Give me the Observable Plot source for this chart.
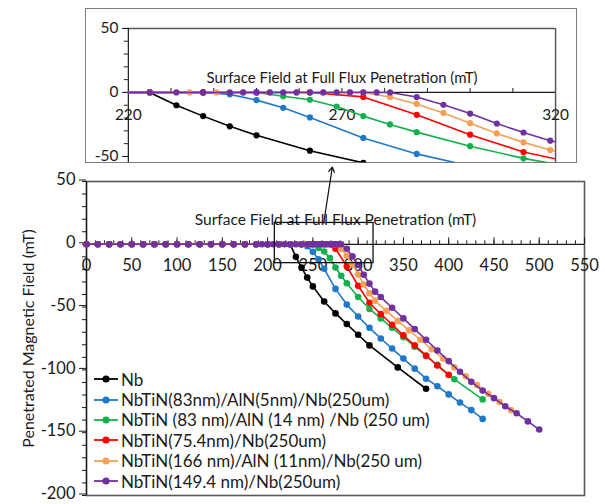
<!DOCTYPE html>
<html><head><meta charset="utf-8">
<script src="https://cdn.jsdelivr.net/npm/d3@7"></script>
<script src="https://cdn.jsdelivr.net/npm/@observablehq/plot@0.6"></script>
<style>
body{margin:0;background:#fff;}
#wrap{position:relative;width:605px;height:504px;overflow:hidden;font-family:Lato,sans-serif;color:#1a1a1a;}
#main{position:absolute;left:0;top:0;}
#inset{position:absolute;left:85px;top:8px;width:492px;height:155px;box-sizing:border-box;border:1.5px solid #7f7f7f;background:#fff;}
#inset svg{position:absolute;left:-1.5px;top:-1.5px;}
#legend{position:absolute;left:94px;top:369px;font-size:17px;}
.row{display:flex;align-items:center;height:20.4px;white-space:nowrap;}
.row svg{margin-right:2px;}
</style></head><body>
<div id="wrap"><div id="main"></div><div id="inset"></div><div id="legend"></div></div>
<script>
// ---- data ----
const seriesNames = [
  "Nb",
  "NbTiN(83nm)/AlN(5nm)/Nb(250um)",
  "NbTiN (83 nm)/AlN (14 nm) /Nb (250 um)",
  "NbTiN(75.4nm)/Nb(250um)",
  "NbTiN(166 nm)/AlN (11nm)/Nb(250 um)",
  "NbTiN(149.4 nm)/Nb(250um)"
];
const seriesColors = ["#000000", "#1f78c8", "#14b04c", "#ff0000", "#f7a055", "#7030a0"];

const zeroField = [0,12.5,25,37.5,50,62.5,75,87.5,100,112.5,125,137.5,150,162.5,175,187.5,200,212.5,225];

const nbX = [231.25,237.5,243.75,250,262.5,275,287.5,300,312.5,343.75,375];
const nbY = [-10,-18.5,-26.5,-33.5,-45.5,-55,-63.5,-72,-80.5,-98,-115];

const aln5X = [237.5,243.75,250,256.25,262.5,275,287.5,300,312.5,325,337.5,350,362.5,375,387.5,400,412.5,425,437.5];
const aln5Y = [0,-1.5,-6,-12,-19.5,-35.5,-48,-57.5,-66.5,-75,-83,-91,-99,-107,-113,-119.5,-126,-132,-139];

const aln14X = [237.5,250,256.25,262.5,268.75,275,281.25,287.5,300,312.5,325,337.5,350,362.5,375,387.5,406.25,437.5];
const aln14Y = [0,0,-3,-5.7,-11,-18.5,-25,-31,-42,-51.5,-59,-66.5,-74,-81.5,-89,-96,-107.5,-123.5];

const nb754X = [237.5,250,262.5,275,287.5,300,312.5,325,337.5,350,362.5,375,387.5,400];
const nb754Y = [0,0,0,-3.5,-17.5,-33,-46.5,-55.5,-64,-72.5,-80.5,-88.5,-96.5,-104];

const aln11X = [234.375,240.625,246.875,253.125,259.375,265.625,271.875,275,281.25,287.5,293.75,300,306.25,312.5,318.75,331.25,343.75,356.25,368.75,381.25,393.75,406.25,418.75,431.25,443.75,456.25,468.75];
const aln11Y = [0,0,0,0,0,0,0,0,-3.5,-9,-16,-24,-32,-39,-45,-53,-61,-68.5,-76,-83.5,-91,-98,-105,-112,-119,-125.5,-132];

const nb1494X = [0,12.5,25,37.5,50,62.5,75,87.5,100,112.5,125,137.5,150,162.5,175,187.5,193.75,200,206.25,212.5,218.75,225,231.25,237.5,243.75,246.875,250,253.125,256.25,259.375,262.5,265.625,268.75,271.875,275,278.125,281.25,287.5,293.75,300,306.25,312.5,318.75,325,337.5,350,362.5,375,387.5,400,412.5,425,437.5,450,462.5,475,487.5,500];
const nb1494Y = [0,0,0,0,0,0,0,0,0,0,0,0,0,0,0,0,0,0,0,0,0,0,0,0,0,0,0,0,0,0,0,0,0,0,0,0,0,-3.6,-9.6,-16.5,-24.3,-31.3,-37.7,-42,-50.5,-59,-67.5,-76,-84.5,-93,-101.5,-109.5,-116.5,-122.5,-129,-134.5,-141,-147.5];

const xTitle = "Surface Field at Full Flux Penetration (mT)";
const yTitle = "Penetrated Magnetic Field (mT)";
const mainXTicks = [0,50,100,150,200,250,300,350,400,450,500,550];
const mainYTicks = [50,0,-50,-100,-150,-200];
const insetXTicks = [220,270,320];
const insetYTicks = [50,0,-50];
const zoomBox = {x1: 208, x2: 317, y1: -15, y2: 17};
const pointer = {x1: 262, y1: 17, x2: 271.5, y2: 61.5};

// ---- assemble ----
const zeros = zeroField.map(() => 0);
const seriesXY = [
  [zeroField.concat(nbX), zeros.concat(nbY)],
  [zeroField.concat(aln5X), zeros.concat(aln5Y)],
  [zeroField.concat(aln14X), zeros.concat(aln14Y)],
  [zeroField.concat(nb754X), zeros.concat(nb754Y)],
  [zeroField.concat(aln11X), zeros.concat(aln11Y)],
  [nb1494X, nb1494Y]
];
const seriesData = seriesXY.map(([xs, ys], i) => xs.map((x, j) => ({series: seriesNames[i], x, y: ys[j]})));

function seriesMarks(clip, r) {
  const m = [];
  seriesData.forEach((d, i) => {
    m.push(Plot.line(d, {x: "x", y: "y", stroke: seriesColors[i], strokeWidth: 1.6, clip}));
    m.push(Plot.dot(d, {x: "x", y: "y", fill: seriesColors[i], r, clip}));
  });
  return m;
}

const font = "Lato, sans-serif";
const ink = "#1a1a1a";

// main chart geometry
const mW = 605, mH = 504, mT = 181, mB = 9, mL = 86, mR = 21;
const mYdom = [-200, 50];
const mUnit = (mYdom[1] - mYdom[0]) / (mH - mT - mB); // data units per px

const main = Plot.plot({
  width: mW, height: mH,
  marginLeft: mL, marginRight: mR, marginTop: mT, marginBottom: mB,
  x: {domain: [0, 550], axis: null},
  y: {domain: mYdom},
  style: {fontFamily: font, fontSize: "16.5px", background: "transparent", overflow: "visible", color: ink},
  marks: [
    Plot.frame({stroke: "#595959", strokeWidth: 1.6}),
    Plot.axisY({ticks: d3.range(-200, 51, 10), tickSize: 4, tickFormat: () => "", label: null}),
    Plot.axisY({ticks: mainYTicks, tickSize: 7, tickPadding: 4, label: null, fontSize: 16.5, dy: -1.5, tickFormat: d => String(d)}),
    Plot.ruleX([0], {stroke: ink, strokeWidth: 1.2}),
    Plot.ruleY([0], {stroke: ink, strokeWidth: 1.2}),
    Plot.ruleX(d3.range(10, 550, 10), {x: d => d, y1: 0, y2: 3.5 * mUnit, stroke: ink}),
    Plot.ruleX(mainXTicks, {x: d => d, y1: 0, y2: 6.5 * mUnit, stroke: ink}),
    Plot.text(mainXTicks, {x: d => d, y: 0, dy: 21, text: d => String(d), fontSize: 16.5, fill: ink}),
    Plot.text([xTitle], {frameAnchor: "top", dy: 32, text: d => d, fontSize: 15.5, fill: ink}),
    Plot.text([yTitle], {frameAnchor: "left", dx: -58, rotate: -90, textAnchor: "middle", text: d => d, fontSize: 16, fill: ink}),
    ...seriesMarks(false, 3.3),
    Plot.rect([zoomBox], {x1: "x1", x2: "x2", y1: "y1", y2: "y2", stroke: "#111", fill: "none", strokeWidth: 1.3}),
    Plot.arrow([pointer], {x1: "x1", y1: "y1", x2: "x2", y2: "y2", stroke: "#111", strokeWidth: 1.2, headLength: 7})
  ]
});
document.getElementById("main").appendChild(main);

// inset chart geometry
const iW = 492, iH = 155, iT = 20, iB = 0, iL = 43, iR = 20;
const iYdom = [-55, 50];
const iUnit = (iYdom[1] - iYdom[0]) / (iH - iT - iB);

const inset = Plot.plot({
  width: iW, height: iH,
  marginLeft: iL, marginRight: iR, marginTop: iT, marginBottom: iB,
  x: {domain: [220, 320], axis: null},
  y: {domain: iYdom},
  style: {fontFamily: font, fontSize: "15.5px", background: "transparent", overflow: "visible", color: ink},
  marks: [
    Plot.ruleY([50], {stroke: "#595959", strokeWidth: 1.5}),
    Plot.ruleX([320], {stroke: "#595959", strokeWidth: 1.5}),
    Plot.axisY({ticks: d3.range(-50, 51, 10), tickSize: 4, tickFormat: () => "", label: null}),
    Plot.axisY({ticks: insetYTicks, tickSize: 6, tickPadding: 4, label: null, fontSize: 15.5, tickFormat: d => String(d)}),
    Plot.ruleX([220], {stroke: ink, strokeWidth: 1.2}),
    Plot.ruleY([0], {stroke: ink, strokeWidth: 1.2}),
    Plot.ruleX(d3.range(230, 320, 10), {x: d => d, y1: 0, y2: 4 * iUnit, stroke: ink}),
    Plot.text(insetXTicks, {x: d => d, y: 0, dy: 23, text: d => String(d), fontSize: 15.5, fill: ink}),
    Plot.text([xTitle], {frameAnchor: "top", dy: 44, text: d => d, fontSize: 15, fill: ink}),
    ...seriesMarks(true, 3.1)
  ]
});
document.getElementById("inset").appendChild(inset);

// legend
const legend = document.getElementById("legend");
seriesNames.forEach((name, i) => {
  const row = document.createElement("div");
  row.className = "row";
  row.innerHTML = `<svg width="25" height="12"><line x1="0" x2="24" y1="6" y2="6" stroke="${seriesColors[i]}" stroke-width="1.8"/><circle cx="12" cy="6" r="3.6" fill="${seriesColors[i]}"/></svg><span>${name}</span>`;
  legend.appendChild(row);
});
</script>
</body></html>
